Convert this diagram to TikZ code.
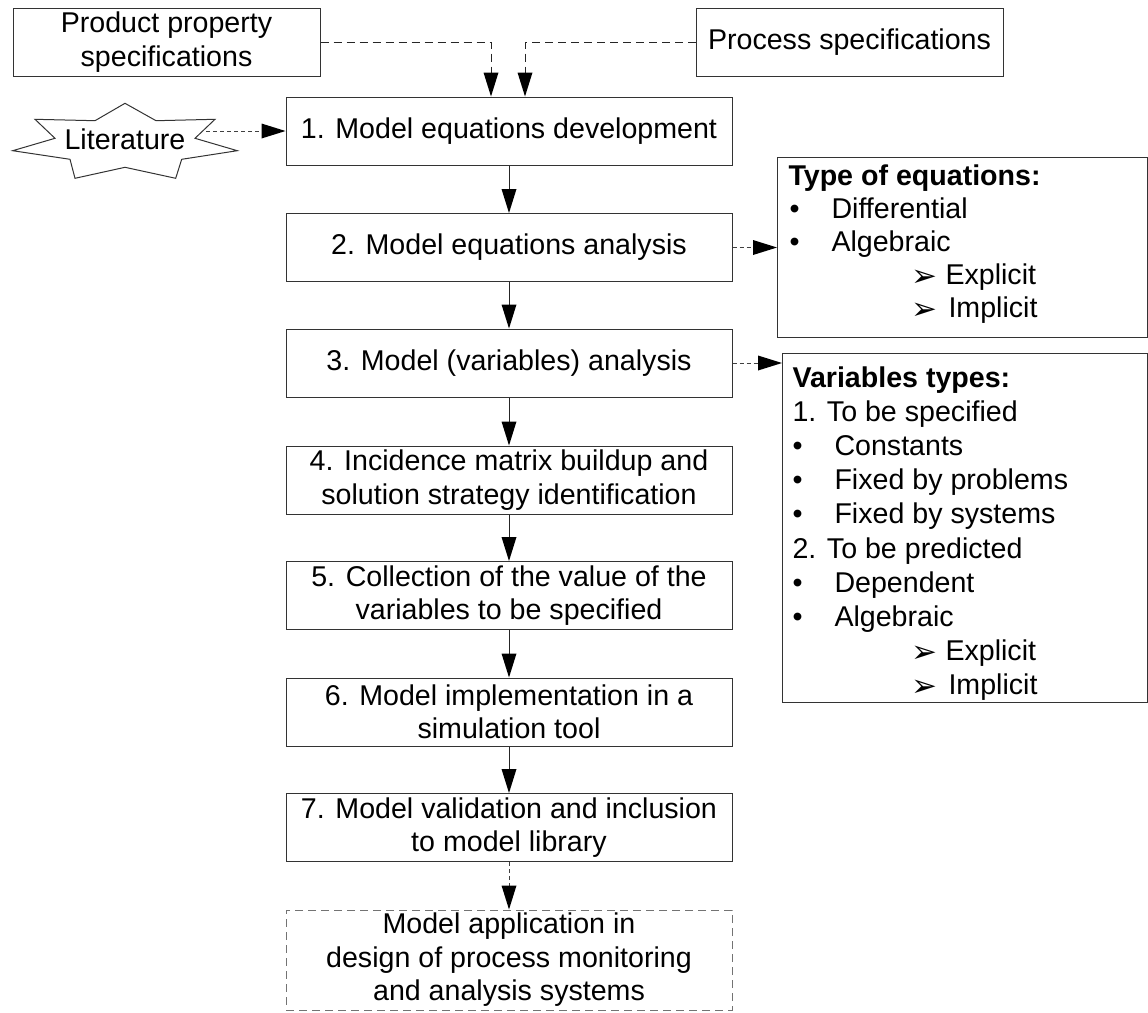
\documentclass[tikz,border=0pt]{standalone}
\usepackage{fontspec}
\setmainfont{Liberation Sans}
\newfontfamily\symfont{DejaVu Sans}
\usetikzlibrary{arrows.meta}
\begin{document}
\begin{tikzpicture}[x=1pt,y=-1pt,
  font=\fontsize{28.6}{33.5}\selectfont,
  line width=1pt,
  tip/.tip={Triangle[length=24pt,width=15pt,fill=black,line width=0pt]},
  stepbox/.style={draw=black!80, minimum width=446pt, minimum height=68pt,
    align=center, inner sep=0pt},
  specbox/.style={draw=black!80, minimum width=307pt, minimum height=68pt,
    align=center, inner sep=0pt},
  infobox/.style={draw=black!80, anchor=north west, inner sep=0pt},
  txt/.style={anchor=base west, inner sep=0pt},
  head/.style={txt, font=\fontsize{28.6}{33.5}\selectfont\bfseries},
  sub/.style={txt, font=\symfont\fontsize{31}{31}\selectfont},
  flow/.style={draw=black!85, -tip},
  feed/.style={draw=black!85, dash pattern=on 8pt off 5pt, -tip},
  finearrow/.style={draw=black!75, dash pattern=on 4pt off 3pt, -tip},
]
\useasboundingbox (0,0) rectangle (1148,1012);

% input specifications
\node[specbox] (prod) at (166.5,42) {Product property\\specifications};
\node[specbox] (proc) at (849.5,42) {Process specifications};

% literature star
\draw[draw=black!80] (125,103.3) -- (95,120.7) -- (35,119.3) -- (55,138.3)
  -- (12.7,150.7) -- (70,159.3) -- (75,178.3) -- (125,167.3) -- (175.7,178.3)
  -- (181.7,159.3) -- (237.3,150.7) -- (195,138.3) -- (215,119.3)
  -- (156,120.7) -- cycle;
\node[anchor=base, inner sep=0pt] (lit) at (125,149) {Literature};
\coordinate (litout) at (206,131);

% main workflow
\node[stepbox] (s1) at (509,131)   {1. Model equations development};
\node[stepbox] (s2) at (509,247.5) {2. Model equations analysis};
\node[stepbox] (s3) at (509,363)   {3. Model (variables) analysis};
\node[stepbox] (s4) at (509,480)   {4. Incidence matrix buildup and\\solution strategy identification};
\node[stepbox] (s5) at (509,595.5) {5. Collection of the value of the\\variables to be specified};
\node[stepbox] (s6) at (509,712)   {6. Model implementation in a\\simulation tool};
\node[stepbox] (s7) at (509,827.5) {7. Model validation and inclusion\\to model library};
\node[stepbox, draw=black!55, dash pattern=on 8pt off 5pt, minimum height=100pt]
  (app) at (509,960) {Model application in\\design of process monitoring\\and analysis systems};

% equation types
\node[infobox, minimum width=370pt, minimum height=180pt] (eqt) at (777,157) {};
\node[head] (eq0) at (788,185) {Type of equations:};
\node[txt] (eq1b) at (789,218) {•};
\node[txt] (eq1)  at (831,218) {Differential};
\node[txt] (eq2b) at (789,251) {•};
\node[txt] (eq2)  at (831,251) {Algebraic};
\node[sub] (eq3b) at (911,286) {➢};
\node[txt] (eq3)  at (945,284) {Explicit};
\node[sub] (eq4b) at (911,319) {➢};
\node[txt] (eq4)  at (948,317) {Implicit};

% variable types
\node[infobox, minimum width=365pt, minimum height=349pt] (vart) at (782,353) {};
\node[head] (v0) at (792,387) {Variables types:};
\node[txt] (v1)  at (792,421.2) {1. To be specified};
\node[txt] (v2b) at (792,455.4) {•};
\node[txt] (v2)  at (834,455.4) {Constants};
\node[txt] (v3b) at (792,489.6) {•};
\node[txt] (v3)  at (834,489.6) {Fixed by problems};
\node[txt] (v4b) at (792,523.8) {•};
\node[txt] (v4)  at (834,523.8) {Fixed by systems};
\node[txt] (v5)  at (792,558) {2. To be predicted};
\node[txt] (v6b) at (792,592.2) {•};
\node[txt] (v6)  at (834,592.2) {Dependent};
\node[txt] (v7b) at (792,626.4) {•};
\node[txt] (v7)  at (834,626.4) {Algebraic};
\node[sub] (v8b) at (911,662.6) {➢};
\node[txt] (v8)  at (945,660.6) {Explicit};
\node[sub] (v9b) at (911,696.8) {➢};
\node[txt] (v9)  at (948,694.8) {Implicit};

% connectors
\draw[feed] (prod.east) -| ([xshift=-18pt]s1.north);
\draw[feed] (proc.west) -| ([xshift=16pt]s1.north);
\draw[finearrow] (litout) -- (s1.west);
\draw[flow] (s1) -- (s2);
\draw[flow] (s2) -- (s3);
\draw[flow] (s3) -- (s4);
\draw[flow] (s4) -- (s5);
\draw[flow] (s5) -- (s6);
\draw[flow] (s6) -- (s7);
\draw[finearrow] (s7) -- (app);
\draw[finearrow] (s2.east) -- (s2.east -| eqt.west);
\draw[finearrow] (s3.east) -- (s3.east -| vart.west);
\end{tikzpicture}
\end{document}
